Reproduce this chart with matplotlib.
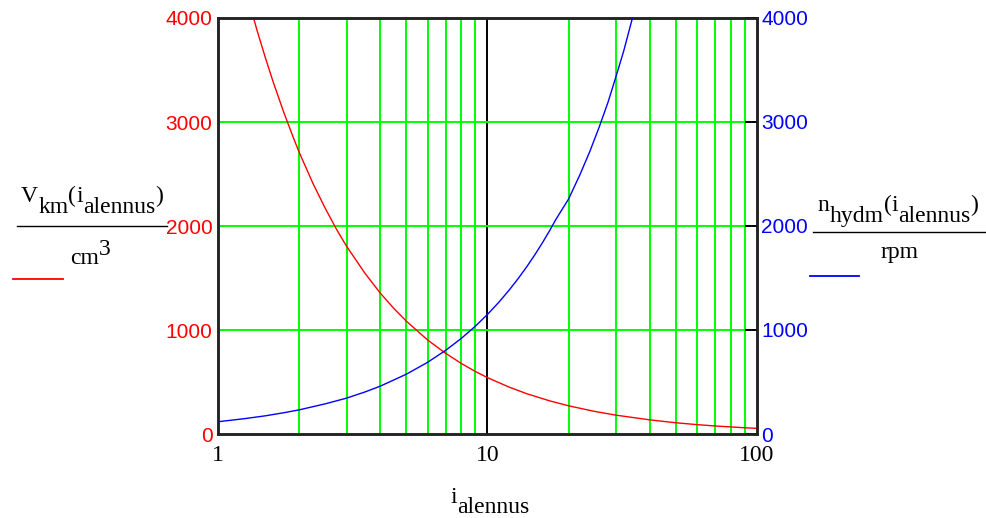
import numpy as np
import matplotlib.pyplot as plt
from matplotlib.lines import Line2D

#%% data
i_red = [1.355, 1.4, 1.5, 1.6, 1.75, 1.9, 2, 2.25, 2.5, 2.75, 3, 3.5, 4, 4.5, 5, 6, 7, 8, 9,
         10, 12, 14, 17, 20, 25, 30, 40, 50, 60, 70, 80, 90, 100]
V_km = [4000, 3870, 3615, 3390, 3100, 2855, 2710, 2410, 2170, 1970, 1805, 1550, 1355, 1205, 1085,
        903, 775, 678, 602, 542, 452, 387, 319, 271, 217, 181, 136, 108, 90, 77, 68, 60, 54]

i_blue = [1, 1.25, 1.5, 1.75, 2, 2.5, 3, 3.5, 4, 5, 6, 7, 8, 9, 10, 11, 12, 13, 14, 15, 16,
          17, 18, 20, 22, 24, 26, 28, 30, 32, 34.5]
n_hydm = [118, 147, 175, 204, 232, 290, 345, 403, 460, 575, 690, 805, 920, 1035, 1150, 1265,
          1380, 1495, 1610, 1725, 1840, 1955, 2070, 2260, 2490, 2720, 2955, 3190, 3440, 3680, 4000]

y_ticks = [0, 1000, 2000, 3000, 4000]
x_ticks = [1, 10, 100]
x_ticklabels = ['1', '10', '100']

green = '#00ff00'
serif = 'Liberation Serif'
sans = 'Liberation Sans'
W, H = 987, 518

#%%
fig = plt.figure(figsize=(W/100, H/100), dpi=100)
ax = fig.add_axes([218/W, 1-434/H, (757-218)/W, (434-18)/H])
ax2 = ax.twinx()

ax.set_xscale('log')
ax.set_xlim(1, 100)
ax.set_ylim(0, 4000)
ax2.set_ylim(0, 4000)

# grid
minor = [m*d for d in (1, 10) for m in range(2, 10)]
for xv in minor:
    ax.axvline(xv, color=green, lw=1.4, zorder=1)
ax.axvline(10, color='black', lw=1.4, zorder=1)
for yv in y_ticks[1:-1]:
    ax.axhline(yv, color=green, lw=1.4, zorder=1)

ax.plot(i_red, V_km, color='red', lw=1.0, zorder=3)
ax2.plot(i_blue, n_hydm, color='blue', lw=1.0, zorder=3)

ax.set_xticks(x_ticks)
ax.set_xticklabels(x_ticklabels, fontfamily=serif, fontsize=17)
ax.xaxis.set_minor_locator(plt.NullLocator())
ax.tick_params(axis='x', length=0, pad=8)

ax.set_yticks(y_ticks)
ax.set_yticklabels([str(v) for v in y_ticks], color='red', fontfamily=sans, fontsize=15)
ax.tick_params(axis='y', length=0, pad=4)
ax2.set_yticks(y_ticks)
ax2.set_yticklabels([str(v) for v in y_ticks], color='blue', fontfamily=sans, fontsize=15)
ax2.tick_params(axis='y', direction='in', length=9, width=1.4, pad=3)

for a in (ax, ax2):
    for s in a.spines.values():
        s.set_linewidth(1.8)
        s.set_color('#222222')

renderer = fig.canvas.get_renderer()


def label(pieces, xc, ybase, size=17):
    # pieces: (text, drop in px); laid out left to right, centred on xc (pixels)
    arts = []
    x = 0
    for txt, drop in pieces:
        t = fig.text(0, 0, txt, fontfamily=serif, fontsize=size, va='baseline', ha='left')
        w = t.get_window_extent(renderer).width
        arts.append((t, x, drop))
        x += w
    x0 = xc - x/2
    for t, dx, drop in arts:
        t.set_position(((x0 + dx)/W, 1 - (ybase + drop)/H))


def hline(x1, x2, y, color, lw=1.0):
    fig.add_artist(Line2D([x1/W, x2/W], [1-y/H, 1-y/H], color=color, lw=lw))


# left axis label
label([('V', 0), ('km', 11), ('(', 0), ('i', 0), ('alennus', 11), (')', 0)], 92, 202)
hline(17, 167, 226, 'black')
label([('cm', 0), ('3', -9)], 90, 264)
hline(13, 63, 279, 'red', 1.3)

# right axis label
label([('n', 0), ('hydm', 11), ('(', 0), ('i', 0), ('alennus', 11), (')', 0)], 898, 211)
hline(813, 985, 232, 'black')
label([('rpm', 0)], 900, 258)
hline(810, 859, 276, 'blue', 1.3)

# x axis label
label([('i', 0), ('alennus', 10)], 490, 503)

plt.savefig('out.png', dpi=100)
